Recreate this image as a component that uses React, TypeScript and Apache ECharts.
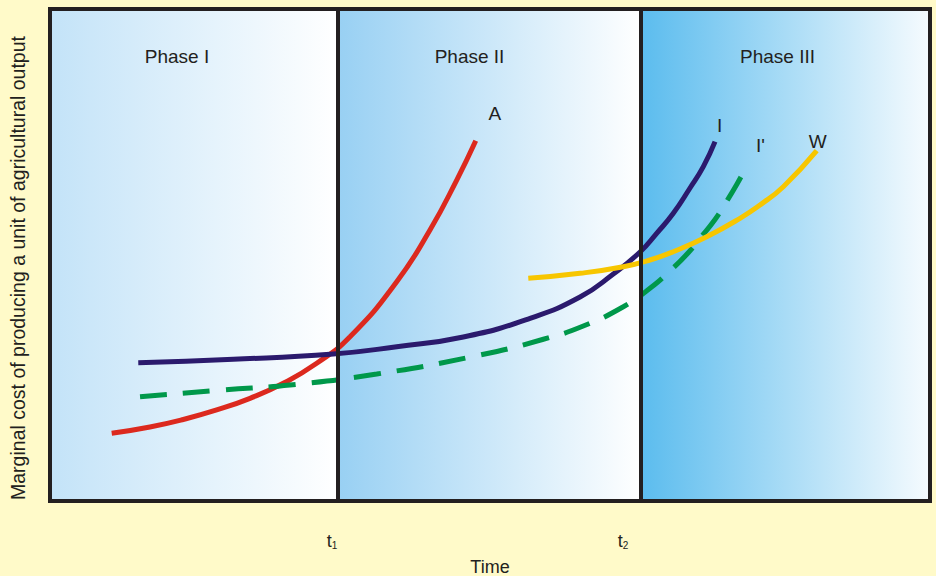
import { useEffect, useRef } from 'react';
import * as echarts from 'echarts';

const FONT = '"Liberation Sans", Arial, Helvetica, sans-serif';
const INK = '#231F20';
const PAGE_BG = '#FFFAC9';

// Phases (x in 0..100 time units)
const phaseNames = ['Phase I', 'Phase II', 'Phase III'];
const phaseStart = [0, 32.73, 67.16];
const phaseEnd = [32.73, 67.16, 100];
const phaseColors = ['#C3E3F8', '#98D0F3', '#5BBCEE'];
const phaseEndColors = ['#FFFFFF', '#FFFFFF', '#F6FBFE'];
const phaseLabelShift = [-17, -20, -8];

// Time marks t1, t2
const timeTicks = [32.73, 67.16];
const timeTickSubs = ['1', '2'];
const timeTickShift = [-6, -18];

// Curve A (red)
const aX = [7.01, 11.36, 15.15, 18.94, 22.73, 26.51, 30.31, 34.09, 39.4, 43.18, 46.22, 48.38];
const aY = [13.76, 15.04, 16.57, 18.5, 20.87, 23.92, 27.99, 33.39, 44.57, 55.08, 65.24, 73.23];

// Curve I (navy)
const iX = [10.03, 20.83, 32.19, 39.4, 46.97, 54.55, 60.23, 64.01, 67.05, 68.94, 70.83, 72.73, 74.24, 75.57];
const iY = [28.11, 28.8, 29.88, 31.36, 33.33, 37.13, 41.46, 46.14, 50.61, 54.41, 58.48, 63.62, 67.95, 73.03];

// Curve I' (green dashed)
const ipX = [10.23, 19.69, 27.27, 37.13, 48.86, 56.06, 60.6, 65.15, 68.18, 70.68, 72.5, 73.86, 75.57, 76.7, 78.07, 79.17];
const ipY = [21.2, 22.56, 23.58, 25.81, 29.67, 32.87, 35.57, 39.49, 43.23, 47.15, 50.41, 53.39, 57.22, 60.37, 64.43, 68.09];

// Curve W (yellow)
const wX = [54.35, 60.23, 65.15, 68.18, 70.83, 74.63, 78.41, 80.68, 83.33, 87.13];
const wY = [45.26, 46.28, 47.62, 48.98, 50.67, 53.72, 57.46, 60.16, 63.88, 71.2];

const zip = (xs: number[], ys: number[]) => xs.map((x, k) => [x, ys[k]]);

const labelText = {
  fontFamily: FONT,
  fontSize: 19,
  color: INK,
};

function curve(
  name: string,
  xs: number[],
  ys: number[],
  color: string,
  label: string,
  offset: number[],
  dashed = false
): any {
  return {
    type: 'line',
    name,
    data: zip(xs, ys),
    smooth: 0.5,
    showSymbol: false,
    symbol: 'none',
    silent: true,
    z: 3,
    lineStyle: {
      color,
      width: 5,
      type: dashed ? [27, 16] : 'solid',
      cap: 'butt',
    },
    endLabel: {
      show: true,
      formatter: label,
      align: 'center',
      verticalAlign: 'middle',
      distance: 0,
      offset,
      ...labelText,
    },
  };
}

export default function App() {
  const ref = useRef<HTMLDivElement>(null);

  useEffect(() => {
    document.body.style.margin = '0';
    if (!ref.current) return;
    const chart = echarts.init(ref.current, null, { renderer: 'svg' });

    const areaData = phaseNames.map((name, k) => [
      {
        name,
        xAxis: phaseStart[k],
        itemStyle: {
          opacity: 1,
          color: new echarts.graphic.LinearGradient(0, 0, 1, 0, [
            { offset: 0, color: phaseColors[k] },
            { offset: 1, color: phaseEndColors[k] },
          ]),
        },
        label: { offset: [phaseLabelShift[k], 0] },
      },
      { xAxis: phaseEnd[k] },
    ]);

    const lineData = timeTicks.map((x, k) => ({
      xAxis: x,
      label: {
        formatter: `{t|t}{s|${timeTickSubs[k]}}`,
        offset: [timeTickShift[k], 0],
      },
    }));

    const seriesA = curve('A', aX, aY, '#DC291E', 'A', [19, -27]);
    seriesA.markArea = {
      silent: true,
      z: 1,
      label: {
        show: true,
        position: 'insideTop',
        distance: 38,
        ...labelText,
      },
      data: areaData,
    };
    seriesA.markLine = {
      silent: true,
      symbol: ['none', 'none'],
      lineStyle: { color: INK, width: 4, type: 'solid' },
      emphasis: { disabled: true },
      label: {
        show: true,
        position: 'start',
        distance: 31,
        rich: {
          t: { fontFamily: FONT, fontSize: 18, color: INK, lineHeight: 18 },
          s: { fontFamily: FONT, fontSize: 10, color: INK, lineHeight: 6, verticalAlign: 'bottom' },
        },
      },
      data: lineData,
    };

    chart.setOption({
      animation: false,
      backgroundColor: PAGE_BG,
      grid: {
        left: 50,
        top: 9,
        width: 880,
        height: 492,
        outerBoundsMode: 'none',
        containLabel: false,
        show: true,
        z: 10,
        backgroundColor: 'transparent',
        borderColor: INK,
        borderWidth: 4,
      },
      xAxis: {
        type: 'value',
        min: 0,
        max: 100,
        name: 'Time',
        nameLocation: 'middle',
        nameGap: 57,
        nameTextStyle: { fontFamily: FONT, fontSize: 18, color: INK },
        axisLine: { show: false },
        axisTick: { show: false },
        axisLabel: { show: false },
        splitLine: { show: false },
      },
      yAxis: {
        type: 'value',
        min: 0,
        max: 100,
        name: 'Marginal cost of producing a unit of agricultural output',
        nameLocation: 'middle',
        nameGap: 22,
        nameTextStyle: { fontFamily: FONT, fontSize: 19.5, color: INK, padding: [0, 26, 0, 0] },
        axisLine: { show: false },
        axisTick: { show: false },
        axisLabel: { show: false },
        splitLine: { show: false },
      },
      series: [
        seriesA,
        curve('I', iX, iY, '#2B1A6D', 'I', [4.5, -16.5]),
        curve("I'", ipX, ipY, '#00984A', "I'", [13.8, -20], true),
        curve('W', wX, wY, '#F7C600', 'W', [1, -9]),
      ],
    });

    return () => chart.dispose();
  }, []);

  return <div ref={ref} style={{ width: 936, height: 576, background: PAGE_BG }} />;
}
